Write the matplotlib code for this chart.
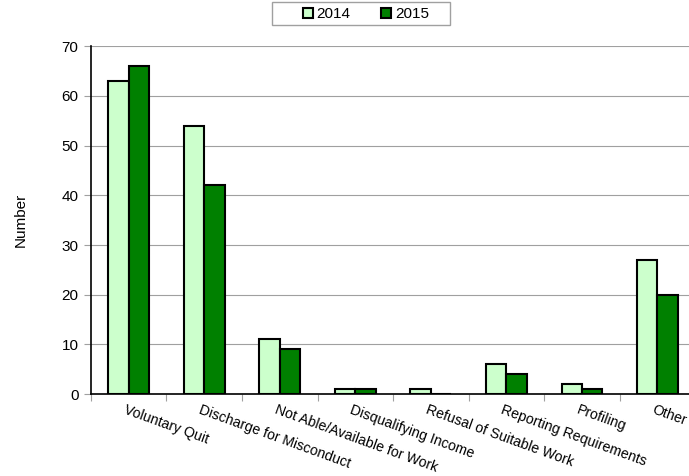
import matplotlib.pyplot as plt
from matplotlib.patches import Rectangle
import numpy as np

plt.rcParams['font.family'] = ['Liberation Sans', 'DejaVu Sans']

categories = ["Voluntary Quit", "Discharge for Misconduct", "Not Able/Available for Work",
              "Disqualifying Income", "Refusal of Suitable Work", "Reporting Requirements",
              "Profiling", "Other"]
vals_2014 = [63, 54, 11, 1, 1, 6, 2, 27]
vals_2015 = [66, 42, 9, 1, 0, 4, 1, 20]

fig = plt.figure(figsize=(6.89, 4.76), dpi=100)
ax = fig.add_axes([0.132, 0.172, 0.877, 0.731])

x = np.arange(len(categories))
w = 0.27
b1 = ax.bar(x - w / 2, vals_2014, w, color="#CCFFCC", edgecolor="black", linewidth=1.5,
            label="2014", zorder=3)
b2 = ax.bar(x + w / 2, vals_2015, w, color="#008000", edgecolor="black", linewidth=1.5,
            label="2015", zorder=3)

ax.set_xlim(-0.5, len(categories) - 0.5)
ax.set_ylim(0, 70)
ax.set_yticks(range(0, 71, 10))
ax.yaxis.grid(True, color="#a0a0a0", linewidth=0.8, zorder=0)
ax.tick_params(axis="y", length=5, color="#a0a0a0", labelsize=11, pad=4)

# category boundary ticks, labels placed separately
ax.set_xticks(np.arange(-0.5, len(categories), 1.0))
ax.set_xticklabels([])
ax.tick_params(axis="x", length=5, color="#a0a0a0")
for xi, name in zip(x, categories):
    ax.text(xi - 0.03, -1.7, name, rotation=-20, ha="left", va="top",
            rotation_mode="anchor", fontsize=10.2)

for side in ("top", "right"):
    ax.spines[side].set_visible(False)
ax.spines["left"].set_linewidth(1.2)
ax.spines["bottom"].set_linewidth(1.2)

ax.set_ylabel("Number", fontsize=11, labelpad=24)

leg = fig.legend(handles=[b1, b2], loc="center", bbox_to_anchor=(366 / 689, 1 - 14 / 476),
                 ncol=2, frameon=False, fontsize=11, handlelength=0.65,
                 handleheight=0.65, columnspacing=2.0, handletextpad=0.25)
fig.patches.append(Rectangle((272 / 689, 1 - 25 / 476), 178 / 689, 23 / 476,
                             transform=fig.transFigure, fill=False,
                             edgecolor="#a0a0a0", linewidth=1.0))

fig.savefig("out.png", dpi=100)
